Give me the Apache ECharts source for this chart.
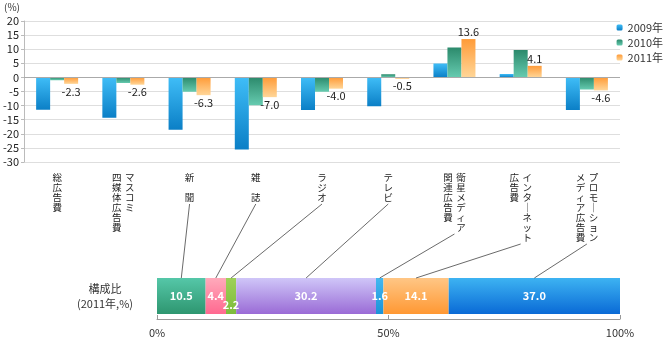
<!DOCTYPE html>
<html><head><meta charset="utf-8">
<script src="https://cdn.jsdelivr.net/npm/echarts@6/dist/echarts.min.js"></script>
<style>html,body{margin:0;padding:0;background:#fff}#c{width:670px;height:338px}</style>
</head><body><div id="c"></div>
<script>
// ---- data ----
const categories = ['総広告費','マスコミ\n四媒体広告費','新\u3000聞','雑\u3000誌','ラジオ','テレビ','衛星メディア\n関連広告費','インターネット\n広告費','プロモーション\nメディア広告費'];
const seriesNames = ['2009年','2010年','2011年'];
const values2009 = [-11.5,-14.3,-18.6,-25.6,-11.6,-10.2,4.9,1.2,-11.6];
const values2010 = [-1.0,-2.0,-5.1,-9.9,-5.1,1.1,10.6,9.7,-4.3];
const values2011 = [-2.3,-2.6,-6.3,-7.0,-4.0,-0.5,13.6,4.1,-4.6];
const yTicks = {min:-30, max:20, interval:5};
const shareLabel = '構成比\n(2011年,%)';
const shareNames = ['新聞','雑誌','ラジオ','テレビ','衛星メディア','インターネット','プロモーション'];
const shareValues = [10.5,4.4,2.2,30.2,1.6,14.1,37.0];
const shareCategoryIndex = [2,3,4,5,6,7,8];
const shareTicks = {min:0, max:100, interval:50};

// ---- styling ----
const FONT = '"Noto Sans CJK JP","Noto Sans",sans-serif';
function grad(a,b){return new echarts.graphic.LinearGradient(0,0,0,1,[{offset:0,color:a},{offset:1,color:b}]);}
const topColors = [grad('#3fbdf7','#0b7fc6'), grad('#2c8a6c','#66cbb0'), grad('#ff9b38','#ffd698')];
const shareColors = [grad('#55c7a8','#2e9670'), grad('#ffaabb','#ff6990'), grad('#9ed158','#7dbb3c'),
  grad('#cfc6f8','#9a6bd6'), grad('#44b8f0','#1c93d8'), grad('#ffc685','#ff9833'), grad('#3db3f2','#0a6ad6')];
const LH = 10, LABEL_MARGIN = 10;

function verticalCols(label){
  return label.split('\n').map(s => Array.from(s.replace(/ー/g,'｜')));
}
function verticalText(label){
  const cols = verticalCols(label);
  const rows = Math.max(...cols.map(c=>c.length));
  const lines = [];
  for(let r=0;r<rows;r++){
    let line='';
    for(let c=cols.length-1;c>=0;c--){ line += '{c|'+(cols[c][r]||'\u3000')+'}'; }
    lines.push(line);
  }
  return lines.join('\n');
}

const chart = echarts.init(document.getElementById('c'), null, {renderer:'canvas'});

const allValues = [values2009, values2010, values2011];
const topSeries = allValues.map((vals,i)=>({
  name: seriesNames[i], type:'bar', xAxisIndex:0, yAxisIndex:0,
  barWidth:14, barGap:'0%',
  itemStyle:{color: topColors[i]},
  data: vals.map(v=>({value:v})),
  label: i===2 ? {show:true, position:'outside', distance:2, fontSize:11, color:'#222', fontFamily:FONT,
    formatter:p=>p.value.toFixed(1)} : {show:false},
  markLine: i===0 ? {silent:true, symbol:'none', label:{show:false}, lineStyle:{color:'#aaaaaa', type:'solid', width:1},
    data:[{yAxis:0}]} : undefined,
  z: 3
}));

let cum = 0;
const shareSeries = shareValues.map((v,i)=>{
  const s = {
    name: shareNames[i], type:'bar', stack:'share', xAxisIndex:1, yAxisIndex:1,
    barWidth:36, itemStyle:{color: shareColors[i]},
    data:[v],
    label:{show:true, position:'inside', color:'#fff', fontWeight:'bold', fontSize:11, fontFamily:FONT,
      formatter:p=>Number(p.value).toFixed(1), offset: v===2.2 ? [0,9] : [0,0]}
  };
  cum += v; return s;
});

chart.setOption({
  animation:false,
  textStyle:{fontFamily:FONT},
  title:{text:'(%)', left:4, top:2, padding:0, textStyle:{fontSize:10, fontWeight:'normal', color:'#333', fontFamily:FONT}},
  legend:{data:seriesNames, orient:'vertical', right:2, top:17, itemWidth:6, itemHeight:6, itemGap:4,
    textStyle:{fontSize:11, color:'#333', fontFamily:FONT}},
  grid:[{left:24, top:21, right:50, height:141}, {left:157, top:278, right:50, height:36}],
  xAxis:[
    {type:'category', gridIndex:0, data:categories, axisLine:{show:false, onZero:false}, axisTick:{show:false},
     axisLabel:{interval:0, margin:LABEL_MARGIN, verticalAlign:'top', formatter:verticalText,
       rich:{c:{fontSize:9.5, lineHeight:LH, width:13, align:'center', color:'#222', fontFamily:FONT}}}},
    {type:'value', gridIndex:1, min:shareTicks.min, max:shareTicks.max, interval:shareTicks.interval, offset:5,
     axisLine:{show:true, lineStyle:{color:'#999'}}, axisTick:{show:true, inside:true, length:4, lineStyle:{color:'#999'}},
     splitLine:{show:false}, axisLabel:{formatter:'{value}%', fontSize:11, color:'#333', margin:8}}
  ],
  yAxis:[
    {type:'value', gridIndex:0, min:yTicks.min, max:yTicks.max, interval:yTicks.interval,
     axisLine:{show:true, lineStyle:{color:'#bbb'}}, axisTick:{show:true, length:3, lineStyle:{color:'#bbb'}},
     splitLine:{lineStyle:{color:'#dedede', width:1}},
     axisLabel:{fontSize:11, color:'#222', margin:5}},
    {type:'category', gridIndex:1, data:[shareLabel], axisLine:{show:false}, axisTick:{show:false},
     axisLabel:{align:'center', margin:52, fontSize:11, lineHeight:15, color:'#333'}}
  ],
  series: topSeries.concat(shareSeries)
});

// leader lines from category labels to composition segments
const gridBottom = chart.convertToPixel({yAxisIndex:0}, yTicks.min);
const barCenterY = chart.convertToPixel({yAxisIndex:1}, 0);
const lines = [];
let acc = 0;
shareValues.forEach((v,i)=>{
  const ci = shareCategoryIndex[i];
  const rows = Math.max(...verticalCols(categories[ci]).map(c=>c.length));
  const x1 = chart.convertToPixel({xAxisIndex:0}, ci);
  const y1 = gridBottom + LABEL_MARGIN + rows*LH + 2;
  const x2 = chart.convertToPixel({xAxisIndex:1}, acc + v/2);
  const y2 = barCenterY - 18;
  acc += v;
  lines.push({type:'line', shape:{x1:x1, y1:y1, x2:x2, y2:y2}, style:{stroke:'#444', lineWidth:0.8}, silent:true, z:10});
});
chart.setOption({graphic: lines});
</script></body></html>
